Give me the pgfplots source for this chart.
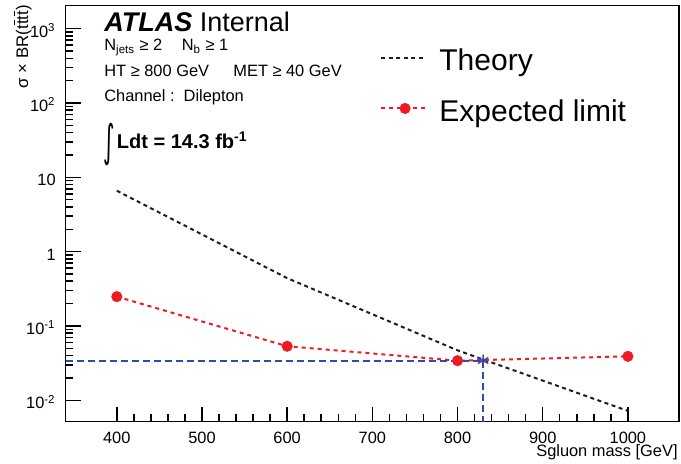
\documentclass[border=0pt]{standalone}
\usepackage{pgfplots}
\pgfplotsset{compat=1.18}
\usepackage{fontspec}
\setmainfont{Liberation Sans}
\newfontfamily\dejavu{DejaVu Sans}
\usepackage{graphicx}

\definecolor{rootred}{RGB}{237,28,36}
\definecolor{rootblue}{RGB}{45,75,170}
\definecolor{darkline}{RGB}{30,30,30}

\newcommand{\px}[2]{({#1*0.5pt},{(464-#2)*0.5pt})}

\begin{document}
\begin{tikzpicture}
\path[use as bounding box] (0,0) rectangle (340.5pt,232pt);
\begin{axis}[
  at={(32.85pt,21.15pt)}, anchor=south west,
  width=306.65pt, height=208pt, scale only axis,
  xmin=340, xmax=1060,
  ymode=log, ymin=0.00515, ymax=2038,
  axis line style={line width=0.75pt},
  /pgf/number format/assume math mode=true,
  /pgf/number format/1000 sep={},
  xtick={400,500,600,700,800,900,1000},
  minor x tick num=4,
  ytick={0.01,0.1,1,10,100,1000},
  yticklabels={10\textsuperscript{-2},10\textsuperscript{-1},1,10,10\textsuperscript{2},10\textsuperscript{3}},
  tick pos=left, tick align=inside,
  major tick length=7.5pt, minor tick length=3.8pt,
  every tick/.style={black, line width=0.75pt},
  xticklabel style={font=\fontsize{8.2}{9.8}\selectfont, yshift=-1.5pt},
  yticklabel style={font=\fontsize{8.2}{9.8}\selectfont, anchor=base east, yshift=-4.2pt, xshift=-1.5pt},
  legend cell align=left,
  legend style={at={(axis description cs:0.512,0.897)}, anchor=north west,
    draw=none, fill=none, inner sep=0pt, row sep=12.95pt, column sep=6.65pt,
    font=\fontsize{15}{18}\selectfont, nodes={inner sep=0pt}},
  legend image code/.code={\draw[mark repeat=2,mark phase=2,#1] plot coordinates {(0pt,1.75pt) (12pt,1.75pt) (22pt,1.75pt)};},
]
\addplot[darkline, line width=1pt, dash pattern=on 2pt off 1.75pt]
  coordinates {(400,6.6) (600,0.44) (800,0.047) (1000,0.0072)};
\addlegendentry{Theory}
\addplot[rootred, line width=1pt, dash pattern=on 2pt off 2pt, mark=*, mark size=2.25pt, mark options={solid}]
  coordinates {(400,0.248) (600,0.0533) (800,0.0341) (1000,0.039)};
\addlegendentry{Expected limit}
\addplot[rootblue, line width=1pt, dash pattern=on 3.5pt off 2pt, forget plot]
  coordinates {(340,0.0342) (830,0.0342)};
\addplot[rootblue, line width=1pt, dash pattern=on 3.5pt off 2pt, forget plot]
  coordinates {(830,0.0342) (830,0.00515)};
\addplot[rootblue, only marks, mark=asterisk, mark size=3pt, mark options={solid, line width=0.7pt}, forget plot]
  coordinates {(830,0.0342)};
\end{axis}

% axis titles
\node[anchor=base east, inner sep=0pt, font=\fontsize{8.2}{9.8}\selectfont] at \px{678}{457} {Sgluon mass [GeV]};
\node[rotate=90, anchor=base east, inner sep=0pt, font=\fontsize{8.4}{10}\selectfont] at \px{28}{5} {σ × BR(t$\overline{\mbox{t}}$t$\overline{\mbox{t}}$)};

% ATLAS label and info
\node[anchor=base west, inner sep=0pt, font=\fontsize{13.5}{16}\selectfont] at \px{104}{32} {{\bfseries\itshape ATLAS} Internal};
\node[anchor=base west, inner sep=0pt, font=\fontsize{8.2}{9.8}\selectfont] at \px{104}{51} {N\textsubscript{jets} ≥ 2};
\node[anchor=base west, inner sep=0pt, font=\fontsize{8.2}{9.8}\selectfont] at \px{181.5}{51} {N\textsubscript{b} ≥ 1};
\node[anchor=base west, inner sep=0pt, font=\fontsize{8.2}{9.8}\selectfont] at \px{104}{77} {HT ≥ 800 GeV};
\node[anchor=base west, inner sep=0pt, font=\fontsize{8.2}{9.8}\selectfont] at \px{233}{77} {MET ≥ 40 GeV};
\node[anchor=base west, inner sep=0pt, font=\fontsize{8.2}{9.8}\selectfont] at \px{104}{102} {Channel :\ \ Dilepton};
\node[anchor=base west, inner sep=0pt] at \px{103}{157} {\scalebox{1}[2.0]{\dejavu\fontsize{11}{13}\selectfont ∫}};
\node[anchor=base west, inner sep=0pt, font=\fontsize{10}{12}\selectfont\bfseries] at \px{116.5}{148.5} {Ldt = 14.3 fb\textsuperscript{-1}};
\end{tikzpicture}
\end{document}
